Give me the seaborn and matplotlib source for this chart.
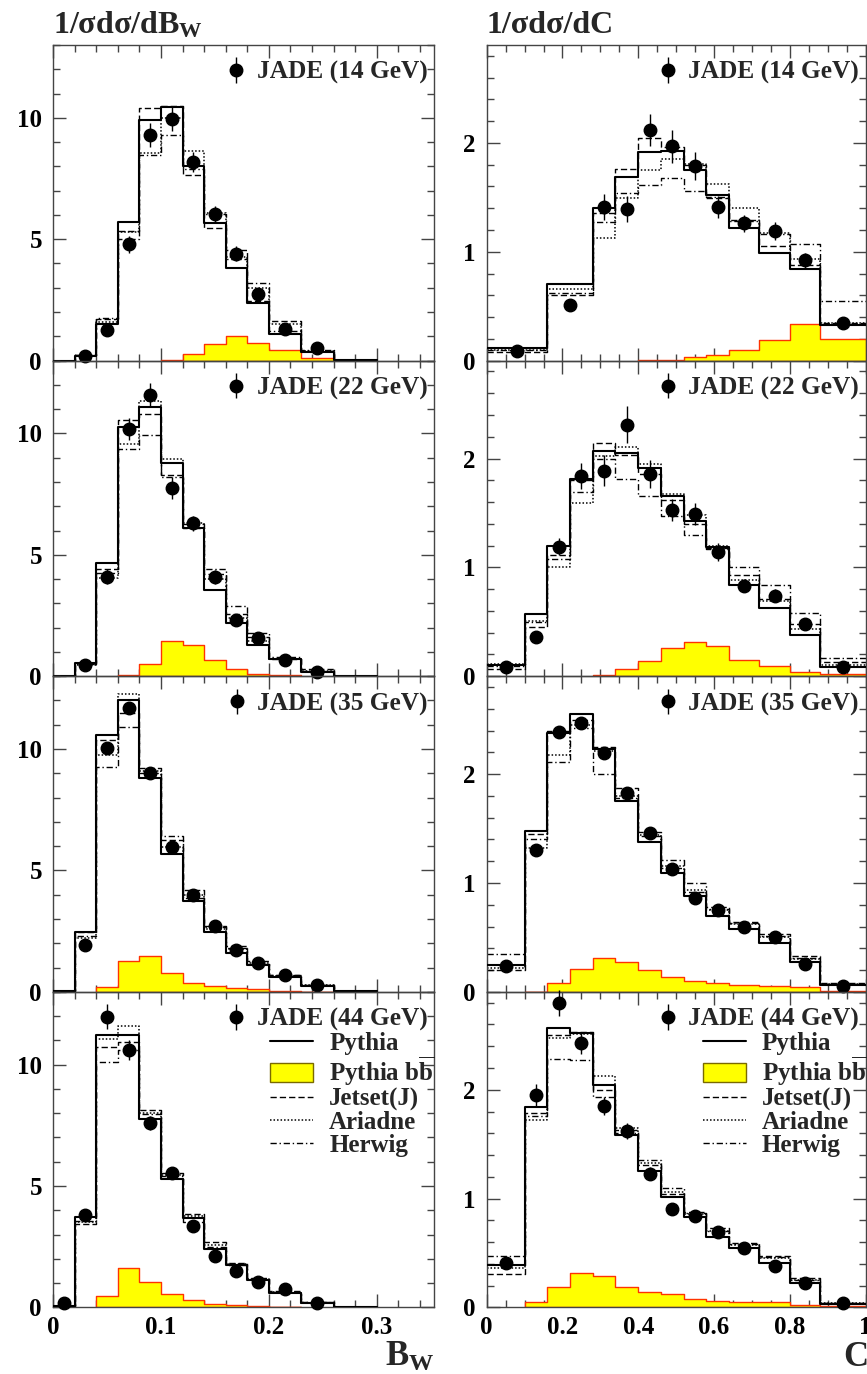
import numpy as np
import pandas as pd
import matplotlib
matplotlib.use("Agg")
import matplotlib.pyplot as plt
import seaborn as sns
from matplotlib.ticker import MultipleLocator, FuncFormatter
from matplotlib.lines import Line2D
from matplotlib.patches import Patch

# ---------------- data ----------------
BW_EDGES = [0, 0.02, 0.04, 0.06, 0.08, 0.10, 0.12, 0.14, 0.16, 0.18, 0.20, 0.23, 0.26, 0.30]
C_EDGES = [0, 0.10, 0.16, 0.22, 0.28, 0.34, 0.40, 0.46, 0.52, 0.58, 0.64, 0.72, 0.80, 0.88, 1.0]
C_EDGES_14 = [0, 0.16, 0.28, 0.34, 0.40, 0.46, 0.52, 0.58, 0.64, 0.72, 0.80, 0.88, 1.0]
ENERGIES = ["14", "22", "35", "44"]
nan = np.nan

# B_W, 14 GeV
BW14_PYTHIA = [0.0, 0.2, 1.5, 5.7, 9.9, 10.45, 8.0, 5.65, 3.8, 2.37, 1.1, 0.35, 0.02]
BW14_JETSET = [0.0, 0.25, 1.7, 5.35, 10.4, 10.5, 7.65, 5.45, 4.55, 2.45, 1.65, 0.4, 0.02]
BW14_ARIADNE = [0.0, 0.2, 1.6, 5.3, 8.55, 10.0, 8.65, 6.1, 4.25, 3.0, 1.5, 0.4, 0.02]
BW14_HERWIG = [0.0, 0.25, 1.75, 5.0, 8.45, 9.3, 7.9, 6.05, 4.2, 3.2, 1.2, 0.45, 0.02]
BW14_BB = [nan, nan, nan, nan, nan, 0.04, 0.26, 0.67, 1.0, 0.74, 0.44, 0.12, nan]
BW14_DATA = [nan, 0.2, 1.25, 4.8, 9.3, 9.97, 8.18, 6.02, 4.4, 2.74, 1.31, 0.52, nan]
BW14_ERR = [nan, 0.1, 0.2, 0.35, 0.5, 0.5, 0.4, 0.35, 0.3, 0.25, 0.15, 0.1, nan]

# B_W, 22 GeV
BW22_PYTHIA = [0.0, 0.55, 4.68, 10.26, 11.1, 8.77, 6.1, 3.55, 2.18, 1.28, 0.69, 0.18, 0.01]
BW22_JETSET = [0.0, 0.5, 4.4, 10.56, 10.8, 8.3, 6.27, 4.2, 2.55, 1.6, 0.72, 0.28, 0.01]
BW22_ARIADNE = [0.0, 0.45, 4.06, 9.57, 11.34, 8.95, 6.3, 4.0, 2.4, 1.45, 0.7, 0.2, 0.01]
BW22_HERWIG = [0.0, 0.5, 4.25, 9.37, 9.94, 8.2, 6.1, 4.43, 2.9, 1.8, 0.79, 0.22, 0.01]
BW22_BB = [nan, nan, nan, 0.07, 0.52, 1.45, 1.28, 0.65, 0.28, 0.1, 0.04, nan, nan]
BW22_DATA = [nan, 0.48, 4.1, 10.19, 11.57, 7.74, 6.3, 4.09, 2.3, 1.56, 0.65, 0.18, nan]
BW22_ERR = [nan, 0.1, 0.3, 0.45, 0.5, 0.45, 0.3, 0.3, 0.2, 0.15, 0.1, 0.08, nan]

# B_W, 35 GeV
BW35_PYTHIA = [0.05, 2.46, 10.58, 12.04, 8.79, 5.68, 3.72, 2.48, 1.59, 1.11, 0.63, 0.25, 0.02]
BW35_JETSET = [0.05, 2.45, 10.37, 11.47, 9.2, 6.26, 4.2, 2.72, 1.87, 1.25, 0.7, 0.28, 0.02]
BW35_ARIADNE = [0.05, 2.2, 9.75, 12.26, 9.1, 5.95, 4.0, 2.6, 1.75, 1.2, 0.66, 0.27, 0.02]
BW35_HERWIG = [0.05, 2.3, 9.25, 10.92, 9.0, 6.42, 3.85, 2.65, 1.8, 1.15, 0.68, 0.26, 0.02]
BW35_BB = [nan, nan, 0.19, 1.25, 1.48, 0.77, 0.38, 0.22, 0.15, 0.11, 0.04, 0.01, nan]
BW35_DATA = [nan, 1.93, 10.03, 11.67, 9.03, 5.95, 3.99, 2.69, 1.73, 1.18, 0.71, 0.29, nan]
BW35_ERR = [nan, 0.12, 0.2, 0.2, 0.15, 0.1, 0.08, 0.06, 0.05, 0.04, 0.03, 0.02, nan]

# B_W, 44 GeV
BW44_PYTHIA = [0.05, 3.72, 11.22, 11.22, 7.74, 5.27, 3.69, 2.41, 1.73, 1.11, 0.6, 0.19, 0.01]
BW44_JETSET = [0.05, 3.42, 10.71, 10.92, 8.15, 5.53, 3.85, 2.69, 1.82, 1.21, 0.66, 0.22, 0.01]
BW44_ARIADNE = [0.05, 3.5, 11.06, 11.6, 8.0, 5.45, 3.75, 2.55, 1.78, 1.15, 0.63, 0.2, 0.01]
BW44_HERWIG = [0.05, 3.55, 10.1, 10.6, 7.95, 5.4, 3.5, 2.5, 1.75, 1.18, 0.62, 0.21, 0.01]
BW44_BB = [nan, nan, 0.49, 1.62, 1.04, 0.56, 0.32, 0.15, 0.08, 0.04, 0.02, nan, nan]
BW44_DATA = [0.18, 3.81, 11.98, 10.6, 7.59, 5.54, 3.35, 2.1, 1.5, 1.04, 0.77, 0.19, nan]
BW44_ERR = [0.05, 0.2, 0.5, 0.4, 0.3, 0.25, 0.2, 0.15, 0.12, 0.1, 0.08, 0.05, nan]

# C, 14 GeV (coarser first bins)
C14_PYTHIA = [0.12, 0.70, 1.40, 1.69, 1.92, 1.93, 1.75, 1.52, 1.22, 0.99, 0.84, 0.33]
C14_JETSET = [0.08, 0.60, 1.36, 1.76, 2.05, 1.96, 1.80, 1.49, 1.29, 1.05, 0.88, 0.35]
C14_ARIADNE = [0.10, 0.66, 1.13, 1.49, 1.75, 1.85, 1.81, 1.62, 1.40, 1.17, 0.93, 0.35]
C14_HERWIG = [0.10, 0.62, 1.27, 1.54, 1.61, 1.68, 1.56, 1.50, 1.28, 1.16, 1.07, 0.55]
C14_BB = [nan, nan, nan, nan, 0.003, 0.01, 0.03, 0.05, 0.10, 0.19, 0.34, 0.20]
C14_DATA = [0.09, 0.51, 1.41, 1.39, 2.12, 1.97, 1.79, 1.41, 1.26, 1.19, 0.92, 0.35]
C14_ERR = [0.03, 0.05, 0.12, 0.12, 0.15, 0.15, 0.13, 0.10, 0.08, 0.08, 0.07, 0.03]

# C, 22 GeV
C22_PYTHIA = [0.10, 0.57, 1.20, 1.81, 2.07, 2.05, 1.91, 1.66, 1.43, 1.19, 0.84, 0.63, 0.38, 0.08]
C22_JETSET = [0.07, 0.45, 1.11, 1.80, 2.14, 2.03, 1.86, 1.62, 1.40, 1.18, 0.93, 0.71, 0.48, 0.13]
C22_ARIADNE = [0.11, 0.51, 1.00, 1.59, 2.02, 2.11, 1.95, 1.67, 1.48, 1.20, 0.88, 0.69, 0.43, 0.10]
C22_HERWIG = [0.09, 0.50, 1.08, 1.69, 2.00, 1.81, 1.66, 1.47, 1.30, 1.17, 1.00, 0.84, 0.58, 0.17]
C22_BB = [nan, nan, nan, nan, 0.01, 0.07, 0.14, 0.26, 0.31, 0.28, 0.15, 0.09, 0.04, 0.02]
C22_DATA = [0.08, 0.36, 1.19, 1.84, 1.89, 2.31, 1.86, 1.53, 1.49, 1.14, 0.83, 0.74, 0.48, 0.08]
C22_ERR = [0.02, 0.05, 0.08, 0.12, 0.14, 0.17, 0.13, 0.10, 0.10, 0.08, 0.06, 0.06, 0.05, 0.02]

# C, 35 GeV
C35_PYTHIA = [0.245, 1.48, 2.38, 2.55, 2.23, 1.75, 1.38, 1.09, 0.88, 0.70, 0.58, 0.45, 0.27, 0.06]
C35_JETSET = [0.20, 1.45, 2.40, 2.50, 2.25, 1.87, 1.47, 1.14, 0.92, 0.78, 0.64, 0.53, 0.33, 0.08]
C35_ARIADNE = [0.22, 1.32, 2.18, 2.45, 2.21, 1.80, 1.44, 1.16, 0.94, 0.75, 0.62, 0.50, 0.30, 0.07]
C35_HERWIG = [0.35, 1.40, 2.11, 2.42, 2.00, 1.78, 1.43, 1.21, 1.00, 0.76, 0.63, 0.51, 0.31, 0.07]
C35_BB = [nan, 0.0, 0.08, 0.21, 0.31, 0.27, 0.20, 0.14, 0.10, 0.08, 0.06, 0.05, 0.04, 0.01]
C35_DATA = [0.24, 1.30, 2.39, 2.47, 2.19, 1.83, 1.46, 1.13, 0.86, 0.75, 0.60, 0.50, 0.26, 0.05]
C35_ERR = [0.02, 0.04, 0.04, 0.05, 0.04, 0.03, 0.03, 0.03, 0.02, 0.02, 0.02, 0.02, 0.02, 0.01]

# C, 44 GeV
C44_PYTHIA = [0.39, 1.84, 2.57, 2.52, 2.04, 1.58, 1.25, 1.01, 0.83, 0.65, 0.55, 0.41, 0.22, 0.03]
C44_JETSET = [0.31, 1.79, 2.50, 2.53, 2.00, 1.63, 1.31, 1.04, 0.88, 0.73, 0.59, 0.47, 0.27, 0.04]
C44_ARIADNE = [0.36, 1.72, 2.48, 2.51, 2.13, 1.65, 1.33, 1.06, 0.86, 0.70, 0.57, 0.45, 0.25, 0.04]
C44_HERWIG = [0.47, 1.76, 2.28, 2.27, 1.93, 1.60, 1.35, 1.10, 0.87, 0.70, 0.58, 0.46, 0.25, 0.04]
C44_BB = [nan, 0.05, 0.19, 0.32, 0.29, 0.19, 0.14, 0.12, 0.08, 0.06, 0.05, 0.05, 0.02, 0.01]
C44_DATA = [0.41, 1.95, 2.80, 2.43, 1.85, 1.62, 1.23, 0.90, 0.84, 0.69, 0.55, 0.38, 0.22, 0.04]
C44_ERR = [0.04, 0.10, 0.12, 0.10, 0.08, 0.07, 0.06, 0.05, 0.04, 0.04, 0.03, 0.03, 0.03, 0.01]

MC_LABELS = ["Pythia", r"Pythia b$\overline{\mathrm{b}}$", "Jetset(J)", "Ariadne", "Herwig"]

# ---------------- style ----------------
sns.set_theme(style="ticks")
plt.rcParams.update({
    "font.family": ["Liberation Serif", "DejaVu Serif"],
    "font.weight": "bold",
    "mathtext.fontset": "custom",
    "mathtext.rm": "Liberation Serif:bold",
    "mathtext.it": "Liberation Serif:bold",
    "mathtext.bf": "Liberation Serif:bold",
    "axes.edgecolor": "#444444",
    "axes.linewidth": 1.0,
    "xtick.color": "#444444",
    "ytick.color": "#444444",
    "xtick.labelcolor": "black",
    "ytick.labelcolor": "black",
})

W, H = 867, 1374
fig = plt.figure(figsize=(W / 100, H / 100), dpi=100)

TOP = 45
PH = 315.6
LEFT_X0, LEFT_X1 = 53, 434
RIGHT_X0, RIGHT_X1 = 486.7, 865.5

LS_JET = (0, (4.5, 2.2))
LS_ARI = (0, (1.0, 1.3))
LS_HER = (0, (4.5, 2.0, 1.0, 2.0))


def _frame(edges, vals):
    e = [float(v) for v in edges]
    centers = [0.5 * (a + b) for a, b in zip(e[:-1], e[1:])]
    return pd.DataFrame({"x": centers, "w": [float(v) for v in vals]}), e


def hist_line(ax, edges, vals, **kw):
    df, e = _frame(edges, vals)
    sns.histplot(data=df, x="x", weights="w", bins=e, element="step",
                 fill=False, ax=ax, **kw)


def hist_fill(ax, edges, vals):
    v = np.asarray(vals, float)
    idx = np.where(np.isfinite(v))[0]
    i0, i1 = idx[0], idx[-1]
    sub_e = list(edges)[i0:i1 + 2]
    sub_v = list(v[i0:i1 + 1])
    df, e = _frame(sub_e, sub_v)
    sns.histplot(data=df, x="x", weights="w", bins=e, element="step",
                 fill=True, ax=ax, color="#ffff00", alpha=1.0,
                 edgecolor="#ff3300", linewidth=1.0, zorder=1)


def make_ax(col, row):
    x0, x1 = (LEFT_X0, LEFT_X1) if col == 0 else (RIGHT_X0, RIGHT_X1)
    y_top = TOP + row * PH
    rect = [x0 / W, 1 - (y_top + PH) / H, (x1 - x0) / W, PH / H]
    ax = fig.add_axes(rect)
    ax.set_facecolor("none")
    return ax


fmt = FuncFormatter(lambda v, p: "%g" % round(v, 3))

panels = {
    0: [(BW14_PYTHIA, BW14_JETSET, BW14_ARIADNE, BW14_HERWIG, BW14_BB, BW14_DATA, BW14_ERR, BW_EDGES),
        (BW22_PYTHIA, BW22_JETSET, BW22_ARIADNE, BW22_HERWIG, BW22_BB, BW22_DATA, BW22_ERR, BW_EDGES),
        (BW35_PYTHIA, BW35_JETSET, BW35_ARIADNE, BW35_HERWIG, BW35_BB, BW35_DATA, BW35_ERR, BW_EDGES),
        (BW44_PYTHIA, BW44_JETSET, BW44_ARIADNE, BW44_HERWIG, BW44_BB, BW44_DATA, BW44_ERR, BW_EDGES)],
    1: [(C14_PYTHIA, C14_JETSET, C14_ARIADNE, C14_HERWIG, C14_BB, C14_DATA, C14_ERR, C_EDGES_14),
        (C22_PYTHIA, C22_JETSET, C22_ARIADNE, C22_HERWIG, C22_BB, C22_DATA, C22_ERR, C_EDGES),
        (C35_PYTHIA, C35_JETSET, C35_ARIADNE, C35_HERWIG, C35_BB, C35_DATA, C35_ERR, C_EDGES),
        (C44_PYTHIA, C44_JETSET, C44_ARIADNE, C44_HERWIG, C44_BB, C44_DATA, C44_ERR, C_EDGES)],
}

for col in (0, 1):
    for row in range(4):
        pyth, jet, ari, her, bb, dat, err, edges = panels[col][row]
        ax = make_ax(col, row)
        hist_fill(ax, edges, bb)
        hist_line(ax, edges, her, color="black", linewidth=1.0, linestyle=LS_HER, zorder=2)
        hist_line(ax, edges, ari, color="black", linewidth=1.1, linestyle=LS_ARI, zorder=2)
        hist_line(ax, edges, jet, color="black", linewidth=1.0, linestyle=LS_JET, zorder=2)
        hist_line(ax, edges, pyth, color="black", linewidth=1.5, linestyle="-", zorder=3)

        e = np.asarray(edges, float)
        centers = 0.5 * (e[:-1] + e[1:])
        d = np.asarray(dat, float)
        er = np.asarray(err, float)
        ok = np.isfinite(d)
        eb = ax.errorbar(centers[ok], d[ok], yerr=er[ok], fmt="o", color="black",
                         ms=9, elinewidth=1.0, capsize=0, zorder=5, clip_on=False)

        if col == 0:
            ax.set_xlim(0, 0.353)
            ax.set_ylim(0, 13)
            ax.xaxis.set_major_locator(MultipleLocator(0.1))
            ax.xaxis.set_minor_locator(MultipleLocator(0.02))
            ax.yaxis.set_major_locator(MultipleLocator(5))
            ax.yaxis.set_minor_locator(MultipleLocator(1))
        else:
            ax.set_xlim(0, 1.0)
            ax.set_ylim(0, 2.9)
            ax.xaxis.set_major_locator(MultipleLocator(0.2))
            ax.xaxis.set_minor_locator(MultipleLocator(0.05))
            ax.yaxis.set_major_locator(MultipleLocator(1))
            ax.yaxis.set_minor_locator(MultipleLocator(0.2))
        ax.tick_params(which="both", direction="in", top=True, right=True,
                       bottom=True, left=True, width=1.0)
        ax.tick_params(which="major", length=9.5, labelsize=18)
        ax.tick_params(which="minor", length=5)
        ax.tick_params(axis="y", which="major", pad=8)
        ax.tick_params(axis="x", which="major", pad=6)
        ax.xaxis.set_major_formatter(fmt)
        ax.yaxis.set_major_formatter(fmt)
        if row < 3:
            ax.tick_params(axis="x", labelbottom=False)
        ax.set_xlabel("")
        ax.set_ylabel("")
        for sp in ax.spines.values():
            sp.set_visible(True)

        leg1 = ax.legend([eb], ["JADE (%s GeV)" % ENERGIES[row]], loc="upper right",
                         bbox_to_anchor=(1.0, 0.97), frameon=False, fontsize=18.3,
                         handlelength=0.6, handletextpad=0.5, borderaxespad=0.06,
                         borderpad=0.2)
        if row == 3:
            ax.add_artist(leg1)
            handles = [
                Line2D([], [], color="black", lw=1.5, ls="-"),
                Patch(facecolor="#ffff00", edgecolor="#7a6a00", lw=1.0),
                Line2D([], [], color="black", lw=1.0, ls=LS_JET),
                Line2D([], [], color="black", lw=1.1, ls=LS_ARI),
                Line2D([], [], color="black", lw=1.0, ls=LS_HER),
            ]
            ax.legend(handles, MC_LABELS, loc="upper left", bbox_to_anchor=(0.57, 0.872),
                      frameon=False, fontsize=18, handlelength=1.72, handleheight=0.8,
                      labelspacing=-0.02, handletextpad=0.64, borderpad=0, borderaxespad=0)

fig.text(LEFT_X0 / W, 1 - 33 / H, r"1/σdσ/dB$_{\mathrm{W}}$", fontsize=23,
         ha="left", va="baseline")
fig.text(RIGHT_X0 / W, 1 - 33 / H, "1/σdσ/dC", fontsize=23, ha="left", va="baseline")
fig.text(LEFT_X1 / W, 1 - 1366 / H, r"B$_{\mathrm{W}}$", fontsize=25, ha="right", va="baseline")
fig.text(843 / W, 1 - 1366 / H, "C", fontsize=25, ha="left", va="baseline")

fig.savefig("out.png", dpi=100)
